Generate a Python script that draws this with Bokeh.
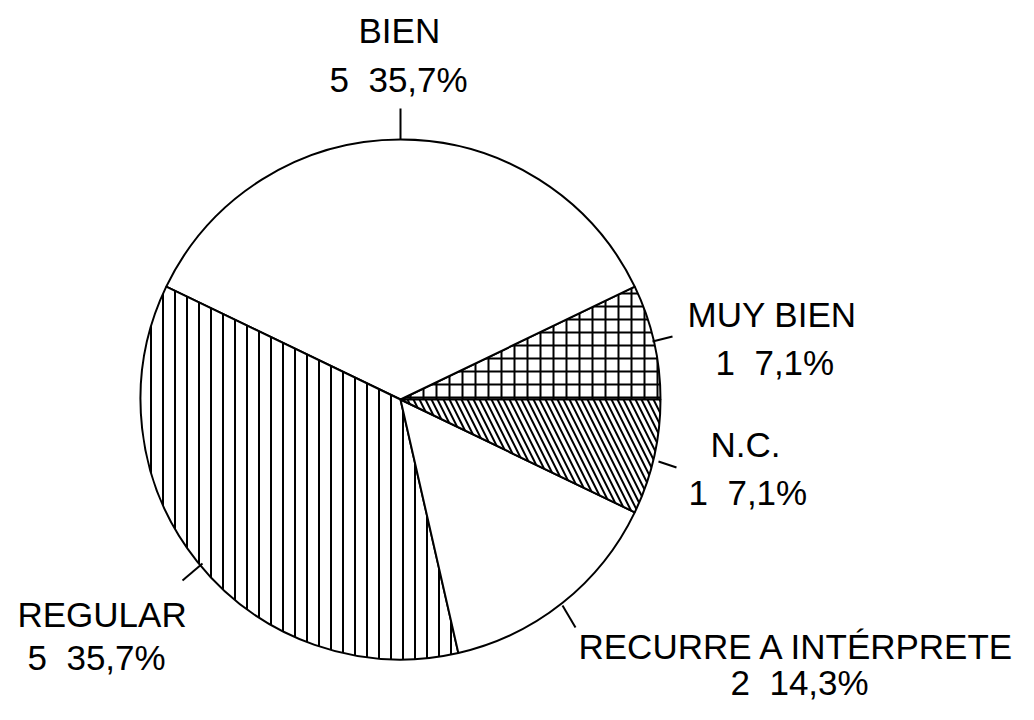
from bokeh.plotting import figure
from bokeh.models import Range1d, ColumnDataSource
from bokeh.core.properties import value
from bokeh.embed import file_html
from bokeh.resources import INLINE
import math

# ---- data ----
categories = ["MUY BIEN", "BIEN", "REGULAR", "RECURRE A INTÉRPRETE", "N.C."]
counts = [1, 5, 5, 2, 1]
hatches = ["+", " ", "|", " ", "\\"]

total = sum(counts)
pcts = [c / total * 100 for c in counts]

W, H = 1018, 704
p = figure(width=W, height=H, output_backend="svg", toolbar_location=None,
           x_range=Range1d(0, W), y_range=Range1d(720 - H, 720),
           min_border=0, outline_line_color=None)
p.axis.visible = False
p.grid.visible = False

def Y(py):
    return 720 - py

cx, cy, r = 400, Y(399), 260
starts, ends = [], []
acc = 0.0
for c in counts:
    starts.append(acc / total * 2 * math.pi)
    acc += c
    ends.append(acc / total * 2 * math.pi)

src = ColumnDataSource(dict(start=starts, end=ends, hatch=hatches,
                            scale=[13, 12, 12, 12, 12]))
p.wedge(x=cx, y=cy, radius=r, start_angle="start", end_angle="end", source=src,
        fill_color="white", line_color="black", line_width=2,
        hatch_pattern="hatch", hatch_color="black", hatch_weight=2, hatch_scale="scale")

# leader ticks
lx0 = [400, 652, 658, 182, 562]
ly0 = [108, 341, 461, 580, 605]
lx1 = [400, 672, 676, 202, 575]
ly1 = [139, 336, 467, 563, 627]
p.segment(x0=lx0, y0=[Y(v) for v in ly0], x1=lx1, y1=[Y(v) for v in ly1],
          line_color="black", line_width=2)

NB = "\u00a0"
def fmt(c, pc):
    return f"{c}{NB}{NB}" + f"{pc:.1f}".replace(".", ",") + "%"

# label placement: (x_name, baseline_name, x_value, baseline_value)
place = {
    "MUY BIEN": (687, 327, 715, 375),
    "BIEN": (358, 43, 329, 92),
    "REGULAR": (17, 627, 27, 670),
    "RECURRE A INTÉRPRETE": (578, 659, 730, 695),
    "N.C.": (710, 457, 688, 505),
}
OFF = 13  # text renders below its anchor; compensate
tx, ty, tt = [], [], []
for cat, c, pc in zip(categories, counts, pcts):
    x1, y1, x2, y2 = place[cat]
    tx += [x1, x2]
    ty += [Y(y1 - OFF), Y(y2 - OFF)]
    tt += [cat, fmt(c, pc)]
p.text(x=tx, y=ty, text=tt, text_align="left", text_baseline="alphabetic",
       text_font=value("Liberation Sans"), text_font_size="35px", text_color="black")

open("out.html", "w").write(file_html(p, INLINE))
